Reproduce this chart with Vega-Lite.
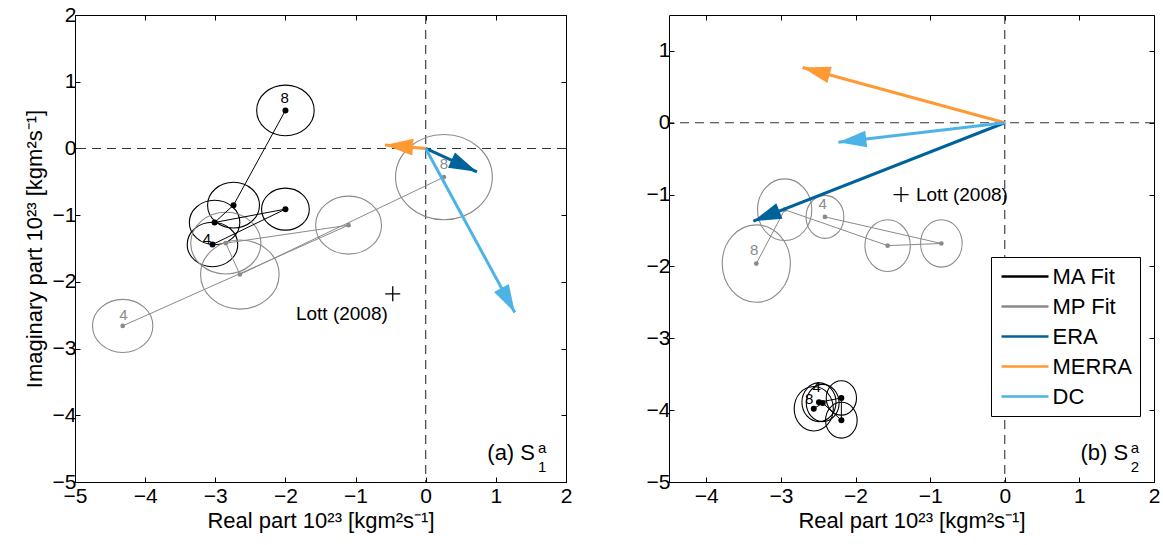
{
  "$schema": "https://vega.github.io/schema/vega-lite/v6.json",
  "background": "white",
  "padding": {"left": 22, "top": 3, "right": 5, "bottom": 5},
  "spacing": 72,
  "datasets": {
    "fits": [
      {"panel": "a", "series": "MA Fit", "k": 4, "x": -3.04, "y": -1.44, "r": 0.36},
      {"panel": "a", "series": "MA Fit", "k": 5, "x": -2.0, "y": -0.91, "r": 0.34},
      {"panel": "a", "series": "MA Fit", "k": 6, "x": -3.01, "y": -1.11, "r": 0.36},
      {"panel": "a", "series": "MA Fit", "k": 7, "x": -2.74, "y": -0.85, "r": 0.37},
      {"panel": "a", "series": "MA Fit", "k": 8, "x": -2.0, "y": 0.57, "r": 0.41},
      {"panel": "a", "series": "MP Fit", "k": 4, "x": -4.32, "y": -2.66, "r": 0.43},
      {"panel": "a", "series": "MP Fit", "k": 5, "x": -1.1, "y": -1.15, "r": 0.47},
      {"panel": "a", "series": "MP Fit", "k": 6, "x": -2.85, "y": -1.42, "r": 0.5},
      {"panel": "a", "series": "MP Fit", "k": 7, "x": -2.65, "y": -1.89, "r": 0.56},
      {"panel": "a", "series": "MP Fit", "k": 8, "x": 0.26, "y": -0.43, "r": 0.69},
      {"panel": "b", "series": "MA Fit", "k": 4, "x": -2.49, "y": -3.89, "r": 0.27},
      {"panel": "b", "series": "MA Fit", "k": 5, "x": -2.19, "y": -3.83, "r": 0.24},
      {"panel": "b", "series": "MA Fit", "k": 6, "x": -2.19, "y": -4.14, "r": 0.25},
      {"panel": "b", "series": "MA Fit", "k": 7, "x": -2.44, "y": -3.9, "r": 0.26},
      {"panel": "b", "series": "MA Fit", "k": 8, "x": -2.56, "y": -3.98, "r": 0.31},
      {"panel": "b", "series": "MP Fit", "k": 4, "x": -2.41, "y": -1.31, "r": 0.3},
      {"panel": "b", "series": "MP Fit", "k": 5, "x": -0.85, "y": -1.68, "r": 0.33},
      {"panel": "b", "series": "MP Fit", "k": 6, "x": -1.57, "y": -1.71, "r": 0.36},
      {"panel": "b", "series": "MP Fit", "k": 7, "x": -2.95, "y": -1.21, "r": 0.43},
      {"panel": "b", "series": "MP Fit", "k": 8, "x": -3.33, "y": -1.96, "r": 0.54}
    ],
    "arrows": [
      {"panel": "a", "series": "ERA", "x": 0.73, "y": -0.35, "bearing": 114.6},
      {"panel": "a", "series": "MERRA", "x": -0.58, "y": 0.05, "bearing": -85.6},
      {"panel": "a", "series": "DC", "x": 1.27, "y": -2.46, "bearing": 151.5},
      {"panel": "b", "series": "ERA", "x": -3.37, "y": -1.37, "bearing": -111.4},
      {"panel": "b", "series": "MERRA", "x": -2.71, "y": 0.77, "bearing": -74.8},
      {"panel": "b", "series": "DC", "x": -2.23, "y": -0.27, "bearing": -96.5}
    ],
    "labels": [
      {"panel": "a", "series": "MA Fit", "text": "8", "x": -2.01, "y": 0.76},
      {"panel": "a", "series": "MA Fit", "text": "4", "x": -3.12, "y": -1.36},
      {"panel": "a", "series": "MP Fit", "text": "4", "x": -4.31, "y": -2.49},
      {"panel": "a", "series": "MP Fit", "text": "8", "x": 0.26, "y": -0.24},
      {"panel": "b", "series": "MA Fit", "text": "8", "x": -2.62, "y": -3.84},
      {"panel": "b", "series": "MA Fit", "text": "4", "x": -2.52, "y": -3.68},
      {"panel": "b", "series": "MP Fit", "text": "8", "x": -3.36, "y": -1.77},
      {"panel": "b", "series": "MP Fit", "text": "4", "x": -2.44, "y": -1.13}
    ],
    "ref": [
      {"panel": "a", "x": -0.47, "y": -2.18, "text": "Lott (2008)", "tx": -0.54, "ty": -2.48},
      {"panel": "b", "x": -1.39, "y": -1.0, "text": "Lott (2008)", "tx": -1.19, "ty": -1.0}
    ],
    "tags": [
      {"panel": "a", "part": "main", "text": "(a) S", "x": 1.558, "y": -4.56},
      {"panel": "a", "part": "sup", "text": "a", "x": 1.6, "y": -4.49},
      {"panel": "a", "part": "sub", "text": "1", "x": 1.6, "y": -4.78},
      {"panel": "b", "part": "main", "text": "(b) S", "x": 1.653, "y": -4.59},
      {"panel": "b", "part": "sup", "text": "a", "x": 1.69, "y": -4.52},
      {"panel": "b", "part": "sub", "text": "2", "x": 1.69, "y": -4.79}
    ]
  },
  "hconcat": [
    {
      "width": 491,
      "height": 467,
      "resolve": {"axis": {"x": "independent", "y": "independent"}},
      "layer": [
        {
          "data": {"values": [{"x": 0}]},
          "mark": {"type": "rule", "strokeDash": [9, 6], "color": "#333333", "strokeWidth": 1.1},
          "encoding": {"x": {"field": "x", "type": "quantitative", "scale": {"domain": [-5, 2], "nice": false, "zero": false}, "axis": null}}
        },
        {
          "data": {"values": [{"y": 0}]},
          "mark": {"type": "rule", "strokeDash": [9, 6], "color": "#333333", "strokeWidth": 1.1},
          "encoding": {"y": {"field": "y", "type": "quantitative", "scale": {"domain": [-5, 2], "nice": false, "zero": false}, "axis": null}}
        },
        {
          "data": {"name": "fits"},
          "transform": [{"filter": "datum.panel == 'a'"}],
          "mark": {"type": "point", "shape": "M-1,0C-1,-0.486 -0.552,-0.88 0,-0.88C0.552,-0.88 1,-0.486 1,0C1,0.486 0.552,0.88 0,0.88C-0.552,0.88 -1,0.486 -1,0Z", "filled": false, "strokeWidth": 1.1, "opacity": 1},
          "encoding": {
            "x": {"field": "x", "type": "quantitative", "scale": {"domain": [-5, 2], "nice": false, "zero": false}, "axis": null},
            "y": {"field": "y", "type": "quantitative", "scale": {"domain": [-5, 2], "nice": false, "zero": false}, "axis": null},
            "size": {"field": "r", "type": "quantitative", "scale": {"type": "pow", "exponent": 2, "domain": [0, 1], "range": [0, 19679]}, "legend": null},
            "color": {"field": "series", "type": "nominal", "scale": {"domain": ["MA Fit", "MP Fit", "ERA", "MERRA", "DC"], "range": ["#000000", "#8a8a8a", "#00629b", "#ff9933", "#4db3e6"]}, "legend": null}
          }
        },
        {
          "data": {"name": "fits"},
          "transform": [{"filter": "datum.panel == 'a'"}],
          "mark": {"type": "line", "strokeWidth": 1},
          "encoding": {
            "x": {"field": "x", "type": "quantitative", "scale": {"domain": [-5, 2], "nice": false, "zero": false},
                  "axis": {"orient": "bottom", "values": [-5, -4, -3, -2, -1, 0, 1, 2], "title": "Real part 10²³ [kgm²s⁻¹]", "titlePadding": 4}},
            "y": {"field": "y", "type": "quantitative", "scale": {"domain": [-5, 2], "nice": false, "zero": false},
                  "axis": {"orient": "left", "values": [-5, -4, -3, -2, -1, 0, 1, 2], "title": "Imaginary part 10²³ [kgm²s⁻¹]", "titlePadding": 6}},
            "order": {"field": "k", "type": "quantitative"},
            "color": {"field": "series", "type": "nominal", "scale": {"domain": ["MA Fit", "MP Fit", "ERA", "MERRA", "DC"], "range": ["#000000", "#8a8a8a", "#00629b", "#ff9933", "#4db3e6"]}, "legend": null}
          }
        },
        {
          "data": {"name": "fits"},
          "transform": [{"filter": "datum.panel == 'a' && datum.series == 'MA Fit'"}],
          "mark": {"type": "point", "shape": "circle", "filled": true, "size": 36, "opacity": 1, "color": "#000000"},
          "encoding": {
            "x": {"field": "x", "type": "quantitative", "scale": {"domain": [-5, 2], "nice": false, "zero": false}, "axis": null},
            "y": {"field": "y", "type": "quantitative", "scale": {"domain": [-5, 2], "nice": false, "zero": false}, "axis": null}
          }
        },
        {
          "data": {"name": "fits"},
          "transform": [{"filter": "datum.panel == 'a' && datum.series == 'MP Fit'"}],
          "mark": {"type": "point", "shape": "circle", "filled": true, "size": 22, "opacity": 1, "color": "#8a8a8a"},
          "encoding": {
            "x": {"field": "x", "type": "quantitative", "scale": {"domain": [-5, 2], "nice": false, "zero": false}, "axis": null},
            "y": {"field": "y", "type": "quantitative", "scale": {"domain": [-5, 2], "nice": false, "zero": false}, "axis": null}
          }
        },
        {
          "data": {"name": "labels"},
          "transform": [{"filter": "datum.panel == 'a'"}],
          "mark": {"type": "text", "fontSize": 15, "font": "Liberation Sans", "baseline": "middle", "align": "center"},
          "encoding": {
            "x": {"field": "x", "type": "quantitative", "scale": {"domain": [-5, 2], "nice": false, "zero": false}, "axis": null},
            "y": {"field": "y", "type": "quantitative", "scale": {"domain": [-5, 2], "nice": false, "zero": false}, "axis": null},
            "text": {"field": "text"},
            "color": {"field": "series", "type": "nominal", "scale": {"domain": ["MA Fit", "MP Fit", "ERA", "MERRA", "DC"], "range": ["#000000", "#8a8a8a", "#00629b", "#ff9933", "#4db3e6"]}, "legend": null}
          }
        },
        {
          "data": {"name": "arrows"},
          "transform": [{"filter": "datum.panel == 'a'"}],
          "mark": {"type": "rule", "strokeWidth": 3},
          "encoding": {
            "x": {"field": "x", "type": "quantitative", "scale": {"domain": [-5, 2], "nice": false, "zero": false}, "axis": null},
            "y": {"field": "y", "type": "quantitative", "scale": {"domain": [-5, 2], "nice": false, "zero": false}, "axis": null},
            "x2": {"datum": 0},
            "y2": {"datum": 0},
            "color": {"field": "series", "type": "nominal", "scale": {"domain": ["MA Fit", "MP Fit", "ERA", "MERRA", "DC"], "range": ["#000000", "#8a8a8a", "#00629b", "#ff9933", "#4db3e6"]}, "legend": null}
          }
        },
        {
          "data": {"name": "arrows"},
          "transform": [{"filter": "datum.panel == 'a'"}],
          "mark": {"type": "point", "shape": "M0,0L-0.6,2L0.6,2Z", "filled": true, "size": 784, "opacity": 1, "strokeWidth": 0},
          "encoding": {
            "x": {"field": "x", "type": "quantitative", "scale": {"domain": [-5, 2], "nice": false, "zero": false}, "axis": null},
            "y": {"field": "y", "type": "quantitative", "scale": {"domain": [-5, 2], "nice": false, "zero": false}, "axis": null},
            "angle": {"field": "bearing", "type": "quantitative", "scale": null},
            "color": {"field": "series", "type": "nominal", "scale": {"domain": ["MA Fit", "MP Fit", "ERA", "MERRA", "DC"], "range": ["#000000", "#8a8a8a", "#00629b", "#ff9933", "#4db3e6"]}, "legend": null}
          }
        },
        {
          "data": {"name": "ref"},
          "transform": [{"filter": "datum.panel == 'a'"}],
          "mark": {"type": "point", "shape": "M-1,0L1,0M0,-1L0,1", "filled": false, "size": 225, "opacity": 1, "color": "#000000", "strokeWidth": 1.3},
          "encoding": {
            "x": {"field": "x", "type": "quantitative", "scale": {"domain": [-5, 2], "nice": false, "zero": false},
                  "axis": {"orient": "top", "labels": false, "title": null, "values": [-5, -4, -3, -2, -1, 0, 1, 2]}},
            "y": {"field": "y", "type": "quantitative", "scale": {"domain": [-5, 2], "nice": false, "zero": false},
                  "axis": {"orient": "right", "labels": false, "title": null, "values": [-5, -4, -3, -2, -1, 0, 1, 2]}}
          }
        },
        {
          "data": {"name": "ref"},
          "transform": [{"filter": "datum.panel == 'a'"}],
          "mark": {"type": "text", "fontSize": 19, "font": "Liberation Sans", "baseline": "middle", "align": "right", "color": "#000000"},
          "encoding": {
            "x": {"field": "tx", "type": "quantitative", "scale": {"domain": [-5, 2], "nice": false, "zero": false}, "axis": null},
            "y": {"field": "ty", "type": "quantitative", "scale": {"domain": [-5, 2], "nice": false, "zero": false}, "axis": null},
            "text": {"field": "text"}
          }
        },
        {
          "data": {"name": "tags"},
          "transform": [{"filter": "datum.panel == 'a' && datum.part == 'main'"}],
          "mark": {"type": "text", "fontSize": 22, "font": "Liberation Sans", "baseline": "middle", "align": "right", "color": "#000000"},
          "encoding": {
            "x": {"field": "x", "type": "quantitative", "scale": {"domain": [-5, 2], "nice": false, "zero": false}, "axis": null},
            "y": {"field": "y", "type": "quantitative", "scale": {"domain": [-5, 2], "nice": false, "zero": false}, "axis": null},
            "text": {"field": "text"}
          }
        },
        {
          "data": {"name": "tags"},
          "transform": [{"filter": "datum.panel == 'a' && datum.part != 'main'"}],
          "mark": {"type": "text", "fontSize": 15, "font": "Liberation Sans", "baseline": "middle", "align": "left", "color": "#000000"},
          "encoding": {
            "x": {"field": "x", "type": "quantitative", "scale": {"domain": [-5, 2], "nice": false, "zero": false}, "axis": null},
            "y": {"field": "y", "type": "quantitative", "scale": {"domain": [-5, 2], "nice": false, "zero": false}, "axis": null},
            "text": {"field": "text"}
          }
        }
      ]
    },
    {
      "width": 485,
      "height": 467,
      "resolve": {"axis": {"x": "independent", "y": "independent"}},
      "layer": [
        {
          "data": {"values": [{"x": 0}]},
          "mark": {"type": "rule", "strokeDash": [9, 6], "color": "#333333", "strokeWidth": 1.1},
          "encoding": {"x": {"field": "x", "type": "quantitative", "scale": {"domain": [-4.5, 2], "nice": false, "zero": false}, "axis": null}}
        },
        {
          "data": {"values": [{"y": 0}]},
          "mark": {"type": "rule", "strokeDash": [9, 6], "color": "#333333", "strokeWidth": 1.1},
          "encoding": {"y": {"field": "y", "type": "quantitative", "scale": {"domain": [-5, 1.5], "nice": false, "zero": false}, "axis": null}}
        },
        {
          "data": {"name": "fits"},
          "transform": [{"filter": "datum.panel == 'b'"}],
          "mark": {"type": "point", "shape": "M0,-1C0.486,-1 0.88,-0.552 0.88,0C0.88,0.552 0.486,1 0,1C-0.486,1 -0.88,0.552 -0.88,0C-0.88,-0.552 -0.486,-1 0,-1Z", "filled": false, "strokeWidth": 1.1, "opacity": 1},
          "encoding": {
            "x": {"field": "x", "type": "quantitative", "scale": {"domain": [-4.5, 2], "nice": false, "zero": false}, "axis": null},
            "y": {"field": "y", "type": "quantitative", "scale": {"domain": [-5, 1.5], "nice": false, "zero": false}, "axis": null},
            "size": {"field": "r", "type": "quantitative", "scale": {"type": "pow", "exponent": 2, "domain": [0, 1], "range": [0, 20563]}, "legend": null},
            "color": {"field": "series", "type": "nominal", "scale": {"domain": ["MA Fit", "MP Fit", "ERA", "MERRA", "DC"], "range": ["#000000", "#8a8a8a", "#00629b", "#ff9933", "#4db3e6"]},
              "legend": {
                "orient": "none", "legendX": 322, "legendY": 242, "title": null,
                "fillColor": "white", "strokeColor": "black", "padding": 8, "cornerRadius": 0,
                "labelFontSize": 22, "labelFont": "Liberation Sans", "labelColor": "black", "labelLimit": 300,
                "symbolSize": 400, "symbolType": "M-2.35,0L2.35,0", "symbolStrokeWidth": 2.5,
                "symbolOffset": 14.5, "rowPadding": 7, "labelOffset": 16,
                "encode": {"symbols": {
                  "shape": {"value": {"expr": "datum.value == 'MA Fit' || datum.value == 'MP Fit' ? 'M-2.35,0L2.35,0M0.3,0C0.3,0.166 0.166,0.3 0,0.3C-0.166,0.3 -0.3,0.166 -0.3,0C-0.3,-0.166 -0.166,-0.3 0,-0.3C0.166,-0.3 0.3,-0.166 0.3,0Z' : 'M-2.35,0L2.35,0'"}},
                  "fill": {"value": {"expr": "datum.value == 'MA Fit' ? '#000000' : datum.value == 'MP Fit' ? '#8a8a8a' : 'transparent'"}},
                  "stroke": {"value": {"expr": "datum.value == 'MA Fit' ? '#555555' : datum.value == 'MP Fit' ? '#9a9a9a' : datum.value == 'ERA' ? '#00629b' : datum.value == 'MERRA' ? '#ff9933' : '#4db3e6'"}},
                  "strokeWidth": {"value": {"expr": "datum.value == 'MA Fit' || datum.value == 'MP Fit' ? 1.3 : 2.8"}},
                  "opacity": {"value": 1}
                }}
              }
            }
          }
        },
        {
          "data": {"name": "fits"},
          "transform": [{"filter": "datum.panel == 'b'"}],
          "mark": {"type": "line", "strokeWidth": 1},
          "encoding": {
            "x": {"field": "x", "type": "quantitative", "scale": {"domain": [-4.5, 2], "nice": false, "zero": false},
                  "axis": {"orient": "bottom", "values": [-4, -3, -2, -1, 0, 1, 2], "title": "Real part 10²³ [kgm²s⁻¹]", "titlePadding": 4}},
            "y": {"field": "y", "type": "quantitative", "scale": {"domain": [-5, 1.5], "nice": false, "zero": false},
                  "axis": {"orient": "left", "values": [-5, -4, -3, -2, -1, 0, 1], "title": null}},
            "order": {"field": "k", "type": "quantitative"},
            "color": {"field": "series", "type": "nominal", "scale": {"domain": ["MA Fit", "MP Fit", "ERA", "MERRA", "DC"], "range": ["#000000", "#8a8a8a", "#00629b", "#ff9933", "#4db3e6"]}, "legend": null}
          }
        },
        {
          "data": {"name": "fits"},
          "transform": [{"filter": "datum.panel == 'b' && datum.series == 'MA Fit'"}],
          "mark": {"type": "point", "shape": "circle", "filled": true, "size": 36, "opacity": 1, "color": "#000000"},
          "encoding": {
            "x": {"field": "x", "type": "quantitative", "scale": {"domain": [-4.5, 2], "nice": false, "zero": false}, "axis": null},
            "y": {"field": "y", "type": "quantitative", "scale": {"domain": [-5, 1.5], "nice": false, "zero": false}, "axis": null}
          }
        },
        {
          "data": {"name": "fits"},
          "transform": [{"filter": "datum.panel == 'b' && datum.series == 'MP Fit'"}],
          "mark": {"type": "point", "shape": "circle", "filled": true, "size": 22, "opacity": 1, "color": "#8a8a8a"},
          "encoding": {
            "x": {"field": "x", "type": "quantitative", "scale": {"domain": [-4.5, 2], "nice": false, "zero": false}, "axis": null},
            "y": {"field": "y", "type": "quantitative", "scale": {"domain": [-5, 1.5], "nice": false, "zero": false}, "axis": null}
          }
        },
        {
          "data": {"name": "labels"},
          "transform": [{"filter": "datum.panel == 'b'"}],
          "mark": {"type": "text", "fontSize": 15, "font": "Liberation Sans", "baseline": "middle", "align": "center"},
          "encoding": {
            "x": {"field": "x", "type": "quantitative", "scale": {"domain": [-4.5, 2], "nice": false, "zero": false}, "axis": null},
            "y": {"field": "y", "type": "quantitative", "scale": {"domain": [-5, 1.5], "nice": false, "zero": false}, "axis": null},
            "text": {"field": "text"},
            "color": {"field": "series", "type": "nominal", "scale": {"domain": ["MA Fit", "MP Fit", "ERA", "MERRA", "DC"], "range": ["#000000", "#8a8a8a", "#00629b", "#ff9933", "#4db3e6"]}, "legend": null}
          }
        },
        {
          "data": {"name": "arrows"},
          "transform": [{"filter": "datum.panel == 'b'"}],
          "mark": {"type": "rule", "strokeWidth": 3},
          "encoding": {
            "x": {"field": "x", "type": "quantitative", "scale": {"domain": [-4.5, 2], "nice": false, "zero": false}, "axis": null},
            "y": {"field": "y", "type": "quantitative", "scale": {"domain": [-5, 1.5], "nice": false, "zero": false}, "axis": null},
            "x2": {"datum": 0},
            "y2": {"datum": 0},
            "color": {"field": "series", "type": "nominal", "scale": {"domain": ["MA Fit", "MP Fit", "ERA", "MERRA", "DC"], "range": ["#000000", "#8a8a8a", "#00629b", "#ff9933", "#4db3e6"]}, "legend": null}
          }
        },
        {
          "data": {"name": "arrows"},
          "transform": [{"filter": "datum.panel == 'b'"}],
          "mark": {"type": "point", "shape": "M0,0L-0.6,2L0.6,2Z", "filled": true, "size": 784, "opacity": 1, "strokeWidth": 0},
          "encoding": {
            "x": {"field": "x", "type": "quantitative", "scale": {"domain": [-4.5, 2], "nice": false, "zero": false}, "axis": null},
            "y": {"field": "y", "type": "quantitative", "scale": {"domain": [-5, 1.5], "nice": false, "zero": false}, "axis": null},
            "angle": {"field": "bearing", "type": "quantitative", "scale": null},
            "color": {"field": "series", "type": "nominal", "scale": {"domain": ["MA Fit", "MP Fit", "ERA", "MERRA", "DC"], "range": ["#000000", "#8a8a8a", "#00629b", "#ff9933", "#4db3e6"]}, "legend": null}
          }
        },
        {
          "data": {"name": "ref"},
          "transform": [{"filter": "datum.panel == 'b'"}],
          "mark": {"type": "point", "shape": "M-1,0L1,0M0,-1L0,1", "filled": false, "size": 225, "opacity": 1, "color": "#000000", "strokeWidth": 1.3},
          "encoding": {
            "x": {"field": "x", "type": "quantitative", "scale": {"domain": [-4.5, 2], "nice": false, "zero": false},
                  "axis": {"orient": "top", "labels": false, "title": null, "values": [-4, -3, -2, -1, 0, 1, 2]}},
            "y": {"field": "y", "type": "quantitative", "scale": {"domain": [-5, 1.5], "nice": false, "zero": false},
                  "axis": {"orient": "right", "labels": false, "title": null, "values": [-5, -4, -3, -2, -1, 0, 1]}}
          }
        },
        {
          "data": {"name": "ref"},
          "transform": [{"filter": "datum.panel == 'b'"}],
          "mark": {"type": "text", "fontSize": 19, "font": "Liberation Sans", "baseline": "middle", "align": "left", "color": "#000000"},
          "encoding": {
            "x": {"field": "tx", "type": "quantitative", "scale": {"domain": [-4.5, 2], "nice": false, "zero": false}, "axis": null},
            "y": {"field": "ty", "type": "quantitative", "scale": {"domain": [-5, 1.5], "nice": false, "zero": false}, "axis": null},
            "text": {"field": "text"}
          }
        },
        {
          "data": {"name": "tags"},
          "transform": [{"filter": "datum.panel == 'b' && datum.part == 'main'"}],
          "mark": {"type": "text", "fontSize": 22, "font": "Liberation Sans", "baseline": "middle", "align": "right", "color": "#000000"},
          "encoding": {
            "x": {"field": "x", "type": "quantitative", "scale": {"domain": [-4.5, 2], "nice": false, "zero": false}, "axis": null},
            "y": {"field": "y", "type": "quantitative", "scale": {"domain": [-5, 1.5], "nice": false, "zero": false}, "axis": null},
            "text": {"field": "text"}
          }
        },
        {
          "data": {"name": "tags"},
          "transform": [{"filter": "datum.panel == 'b' && datum.part != 'main'"}],
          "mark": {"type": "text", "fontSize": 15, "font": "Liberation Sans", "baseline": "middle", "align": "left", "color": "#000000"},
          "encoding": {
            "x": {"field": "x", "type": "quantitative", "scale": {"domain": [-4.5, 2], "nice": false, "zero": false}, "axis": null},
            "y": {"field": "y", "type": "quantitative", "scale": {"domain": [-5, 1.5], "nice": false, "zero": false}, "axis": null},
            "text": {"field": "text"}
          }
        }
      ]
    }
  ],
  "resolve": {
    "scale": {"x": "independent", "y": "independent", "color": "independent", "size": "independent"},
    "legend": {"color": "independent", "size": "independent"}
  },
  "config": {
    "font": "Liberation Sans",
    "view": {"stroke": "#000000", "strokeWidth": 1},
    "axis": {
      "grid": false, "domain": false, "ticks": true, "tickSize": -5, "tickColor": "#000000", "tickWidth": 1,
      "labelColor": "#000000", "titleColor": "#000000", "labelFontSize": 21, "titleFontSize": 22,
      "titleFontWeight": "normal", "labelPadding": 4, "labelFlush": false, "labelOverlap": false,
      "labelFont": "Liberation Sans", "titleFont": "Liberation Sans"
    },
    "axisX": {"labelPadding": 8}
  }
}
